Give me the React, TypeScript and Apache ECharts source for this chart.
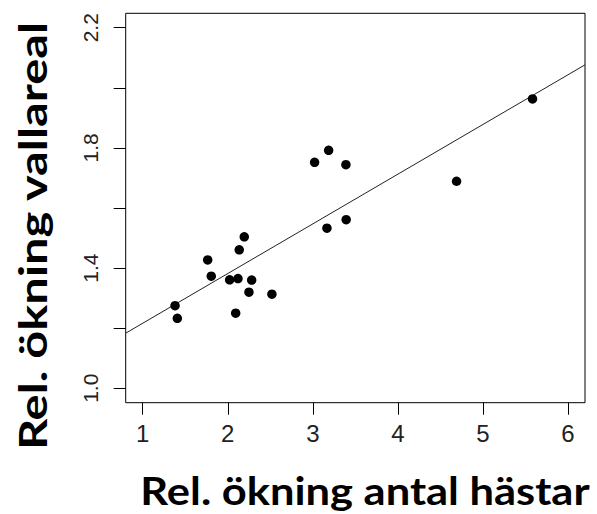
import React, { useEffect, useRef } from "react";
import * as echarts from "echarts";

const xValues = [1.38, 1.407, 1.764, 1.806, 2.022, 2.12, 2.093, 2.135, 2.194, 2.281, 2.249, 2.519, 3.021, 3.186, 3.389, 3.166, 3.392, 4.69, 5.583];
const yValues = [1.275, 1.233, 1.427, 1.373, 1.361, 1.365, 1.25, 1.461, 1.504, 1.36, 1.32, 1.313, 1.752, 1.792, 1.744, 1.533, 1.561, 1.689, 1.963];
const xTicks = [1, 2, 3, 4, 5, 6];
const yTicks = [1.0, 1.2, 1.4, 1.6, 1.8, 2.0, 2.2];
const yTickLabels = [1.0, 1.4, 1.8, 2.2];
const xTitle = "Rel. ökning antal hästar";
const yTitle = "Rel. ökning vallareal";
const fitIntercept = 1.051;
const fitSlope = 0.1654;
const xMin = 0.8;
const xMax = 6.2;
const yMin = 0.952;
const yMax = 2.248;

export default function App() {
  const ref = useRef<HTMLDivElement>(null);
  useEffect(() => {
    if (!ref.current) return;
    const chart = echarts.init(ref.current, undefined, { renderer: "svg" });
    const points = xValues.map((x, i) => [x, yValues[i]]);
    const fit = [
      [xMin, fitIntercept + fitSlope * xMin],
      [xMax, fitIntercept + fitSlope * xMax],
    ];
    const labelFont = "Liberation Sans, Arial, sans-serif";
    const titleFont = "Lato, Open Sans, sans-serif";
    chart.setOption({
      animation: false,
      backgroundColor: "#ffffff",
      grid: {
        left: 125.7,
        top: 13.3,
        right: 12,
        bottom: 111.3,
        show: true,
        borderColor: "#000",
        borderWidth: 1,
        backgroundColor: "transparent",
      },
      xAxis: {
        type: "value",
        min: xMin,
        max: xMax,
        axisLine: { show: false },
        splitLine: { show: false },
        axisTick: {
          show: true,
          inside: false,
          length: 12,
          customValues: xTicks,
          lineStyle: { color: "#000", width: 1 },
        },
        axisLabel: {
          customValues: xTicks,
          margin: 19,
          fontSize: 24,
          color: "#222",
          fontFamily: labelFont,
        },
      },
      yAxis: {
        type: "value",
        min: yMin,
        max: yMax,
        axisLine: { show: false },
        splitLine: { show: false },
        axisTick: {
          show: true,
          inside: false,
          length: 12,
          customValues: yTicks,
          lineStyle: { color: "#000", width: 1 },
        },
        axisLabel: {
          customValues: yTickLabels,
          rotate: 90,
          margin: 25,
          fontSize: 21,
          color: "#222",
          fontFamily: labelFont,
          formatter: (v: number) => v.toFixed(1),
        },
      },
      series: [
        {
          type: "scatter",
          data: points,
          symbol: "circle",
          symbolSize: 9.5,
          itemStyle: { color: "#000", opacity: 1 },
          silent: true,
          z: 3,
        },
        {
          type: "line",
          data: fit,
          symbol: "none",
          lineStyle: { color: "#222", width: 1 },
          silent: true,
          z: 2,
        },
      ],
      graphic: [
        {
          type: "text",
          x: 365,
          y: 490,
          scaleX: 1.115,
          style: {
            text: xTitle,
            font: `bold 39px ${titleFont}`,
            fill: "#000",
            align: "center",
            verticalAlign: "middle",
          },
        },
        {
          type: "text",
          x: 32,
          y: 236,
          rotation: Math.PI / 2,
          scaleX: 1.25,
          style: {
            text: yTitle,
            font: `bold 39px ${titleFont}`,
            fill: "#000",
            align: "center",
            verticalAlign: "middle",
          },
        },
      ],
    });
    return () => chart.dispose();
  }, []);
  return (
    <div
      ref={ref}
      style={{ position: "absolute", left: 0, top: 0, width: 597, height: 514 }}
    />
  );
}
